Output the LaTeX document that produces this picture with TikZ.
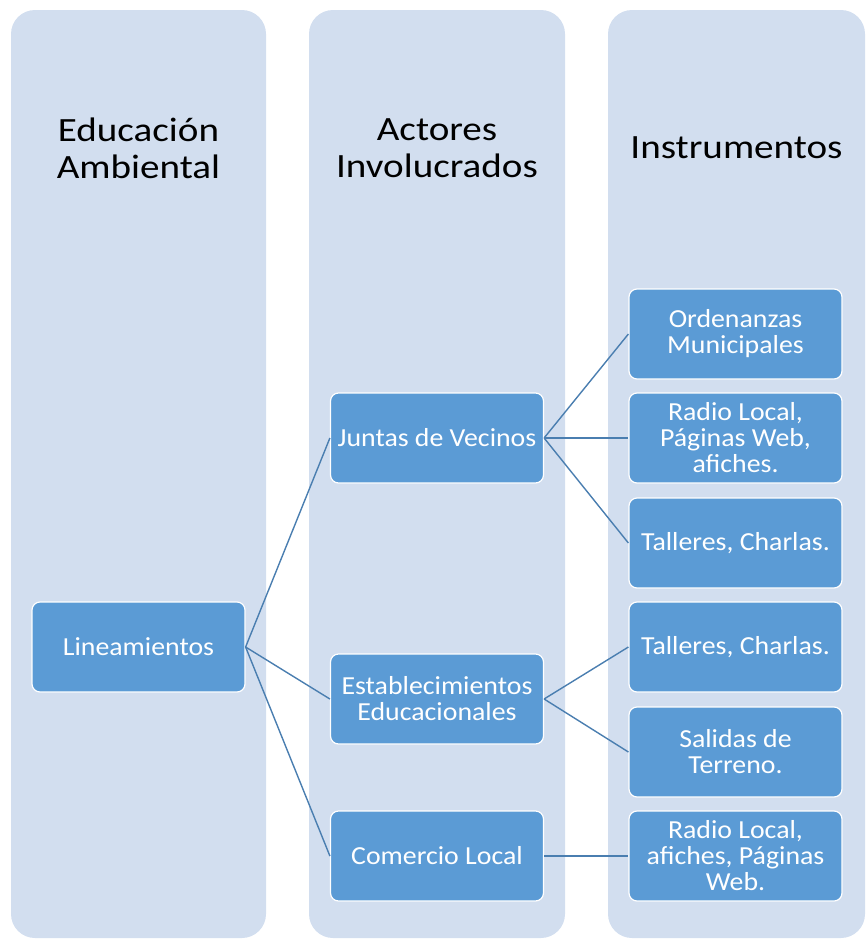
\documentclass[tikz,border=0pt]{standalone}
\usepackage{fontspec}
\setmainfont{Carlito}
\newfontfamily\titlefont[FakeStretch=1.15]{Carlito}
\newfontfamily\boxfont[FakeStretch=1.07]{Carlito}
\definecolor{colbg}{HTML}{D2DEEF}
\definecolor{boxbg}{HTML}{5B9BD5}
\definecolor{linkc}{HTML}{4A7EB0}
\begin{document}
\begin{tikzpicture}[x=1pt,y=-1pt,
  column/.style={fill=colbg,rounded corners=24pt,draw=none},
  title/.style={align=center,font=\titlefont\fontsize{34}{37}\selectfont,text=black},
  itembox/.style={draw=white,line width=1.2pt,fill=boxbg,rounded corners=8pt,
    minimum width=213pt,minimum height=90pt,align=center,text=white,
    font=\boxfont\fontsize{26}{26}\selectfont,inner sep=2pt},
  link/.style={draw=linkc,line width=1.4pt}]
\useasboundingbox (0,0) rectangle (867,940);
\path[column] (11,10) rectangle (266,938);
\path[column] (309,10) rectangle (565,938);
\path[column] (608,10) rectangle (865,938);
\node[title] (t1) at (138.5,148) {Educación\\Ambiental};
\node[title] (t2) at (437,148) {Actores\\Involucrados};
\node[title] (t3) at (736.5,148) {Instrumentos};
\node[itembox] (lin) at (138.5,647) {Lineamientos};
\node[itembox] (jv) at (437,438) {Juntas de Vecinos};
\node[itembox] (ee) at (437,699) {Establecimientos\\Educacionales};
\node[itembox] (cl) at (437,856) {Comercio Local};
\node[itembox] (i1) at (735.5,334) {Ordenanzas\\Municipales};
\node[itembox] (i2) at (735.5,438) {Radio Local,\\Páginas Web,\\afiches.};
\node[itembox] (i3) at (735.5,543) {Talleres, Charlas.};
\node[itembox] (i4) at (735.5,647) {Talleres, Charlas.};
\node[itembox] (i5) at (735.5,752) {Salidas de\\Terreno.};
\node[itembox] (i6) at (735.5,856) {Radio Local,\\afiches, Páginas\\Web.};
\draw[link] (lin.east) -- (jv.west);
\draw[link] (lin.east) -- (ee.west);
\draw[link] (lin.east) -- (cl.west);
\draw[link] (jv.east) -- (i1.west);
\draw[link] (jv.east) -- (i2.west);
\draw[link] (jv.east) -- (i3.west);
\draw[link] (ee.east) -- (i4.west);
\draw[link] (ee.east) -- (i5.west);
\draw[link] (cl.east) -- (i6.west);
\end{tikzpicture}
\end{document}
